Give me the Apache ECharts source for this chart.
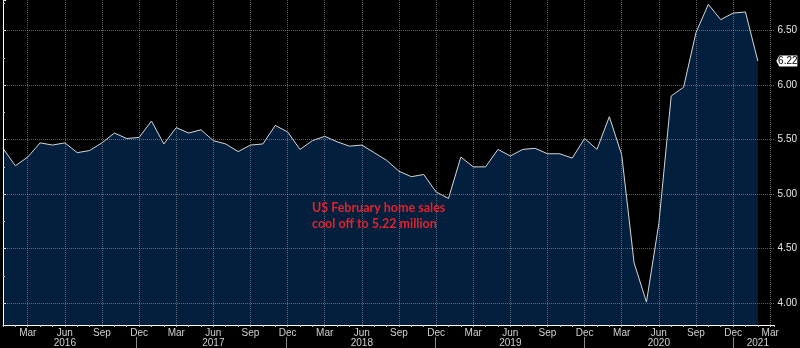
<!DOCTYPE html>
<html>
<head>
<meta charset="utf-8">
<script src="https://cdn.jsdelivr.net/npm/echarts@6/dist/echarts.min.js"></script>
<style>
  html, body { margin: 0; padding: 0; background: #000; }
  #chart { width: 800px; height: 348px; }
</style>
</head>
<body>
<div id="chart"></div>
<script>
// US existing home sales, seasonally adjusted annual rate (millions), monthly
const months = [
  '2016-01','2016-02','2016-03','2016-04','2016-05','2016-06','2016-07','2016-08','2016-09','2016-10','2016-11','2016-12',
  '2017-01','2017-02','2017-03','2017-04','2017-05','2017-06','2017-07','2017-08','2017-09','2017-10','2017-11','2017-12',
  '2018-01','2018-02','2018-03','2018-04','2018-05','2018-06','2018-07','2018-08','2018-09','2018-10','2018-11','2018-12',
  '2019-01','2019-02','2019-03','2019-04','2019-05','2019-06','2019-07','2019-08','2019-09','2019-10','2019-11','2019-12',
  '2020-01','2020-02','2020-03','2020-04','2020-05','2020-06','2020-07','2020-08','2020-09','2020-10','2020-11','2020-12',
  '2021-01','2021-02'
];
const sales = [
  5.42, 5.26, 5.34, 5.47, 5.45, 5.47, 5.38, 5.40, 5.47, 5.56, 5.51, 5.52,
  5.67, 5.46, 5.61, 5.56, 5.59, 5.49, 5.46, 5.39, 5.45, 5.46, 5.63, 5.57,
  5.41, 5.49, 5.53, 5.48, 5.44, 5.45, 5.38, 5.31, 5.21, 5.16, 5.18, 5.02,
  4.96, 5.34, 5.25, 5.25, 5.41, 5.35, 5.41, 5.42, 5.37, 5.37, 5.33, 5.51,
  5.41, 5.71, 5.36, 4.37, 4.01, 4.73, 5.90, 5.98, 6.48, 6.74, 6.60, 6.66,
  6.67, 6.22
];
const monthTickNames = ['', '', 'Mar', '', '', 'Jun', '', '', 'Sep', '', '', 'Dec'];
const yearLabels = [
  ['2016-06', '2016'], ['2017-06', '2017'], ['2018-06', '2018'],
  ['2019-06', '2019'], ['2020-06', '2020'], ['2021-02', '2021']
];
const yTickLabels = ['4.00', '4.50', '5.00', '5.50', '6.00', '6.50'];
const annotation = 'US February home sales\ncool off to 5.22 million';

// x runs on a month index so the axis can extend slightly past the last month
const X_MIN = 0, X_MAX = 62.35;
const Y_MIN = 3.8, Y_MAX = 6.78;

const yearAt = {};
yearLabels.forEach(([m, t]) => { yearAt[months.indexOf(m)] = t; });

const labelFont = "'Liberation Sans Narrow', 'Liberation Sans', sans-serif";
const gridDot = 'rgba(170,170,170,0.55)';
const clear = 'rgba(0,0,0,0)';

// dotted verticals every quarter (Mar/Jun/Sep/Dec), solid year separators at Dec
const quarterColors = [clear, clear, gridDot];
const yearSepColors = [];
for (let i = 0; i < 12; i++) yearSepColors.push(i === 11 ? '#8a8a8a' : clear);

const chart = echarts.init(document.getElementById('chart'));
chart.setOption({
  backgroundColor: '#000',
  animation: false,
  title: {
    text: annotation,
    left: 312, top: 200, padding: 0,
    textStyle: { color: '#e3222c', fontSize: 12.5, fontWeight: 700, fontFamily: 'Lato', lineHeight: 16 }
  },
  grid: [
    { left: 0, right: 25, top: 0, bottom: 23 },
    { left: 0, right: 25, top: 337, height: 11 }
  ],
  xAxis: [
    {
      type: 'value', gridIndex: 0, min: X_MIN, max: X_MAX, interval: 1, z: 3,
      axisLine: { show: true, lineStyle: { color: '#ffffff', width: 1 } },
      axisTick: { show: true, length: 2, lineStyle: { color: '#c8c8c8' } },
      axisLabel: {
        color: '#d0d0d0', fontSize: 10, fontFamily: labelFont, margin: 3,
        formatter: v => Number.isInteger(v) ? monthTickNames[v % 12] : ''
      },
      splitLine: { show: true, lineStyle: { type: 'dotted', width: 1, color: quarterColors } }
    },
    {
      type: 'value', gridIndex: 0, position: 'bottom', offset: 10,
      min: X_MIN, max: X_MAX, interval: 1,
      axisLine: { show: false }, axisTick: { show: false }, splitLine: { show: false },
      axisLabel: {
        color: '#d0d0d0', fontSize: 10, fontFamily: labelFont, margin: 3,
        formatter: v => yearAt[v] || ''
      }
    },
    {
      type: 'value', gridIndex: 1, min: X_MIN, max: X_MAX, interval: 1,
      axisLine: { show: false }, axisTick: { show: false }, axisLabel: { show: false },
      splitLine: { show: true, lineStyle: { type: 'solid', width: 1, color: yearSepColors } }
    }
  ],
  yAxis: [
    {
      type: 'value', gridIndex: 0, position: 'right', min: Y_MIN, max: Y_MAX,
      minInterval: 0.5, maxInterval: 0.5, splitNumber: 6, z: 3,
      axisLine: { show: true, lineStyle: { color: '#ffffff', width: 1 } },
      axisTick: { show: true, length: 3, lineStyle: { color: '#ffffff' } },
      axisLabel: {
        color: '#e6e6e6', fontSize: 10, fontFamily: labelFont, margin: 3,
        formatter: v => yTickLabels.includes(v.toFixed(2)) ? v.toFixed(2) : ''
      },
      splitLine: { show: true, showMinLine: false, showMaxLine: false,
        lineStyle: { type: 'dotted', width: 1, color: gridDot } }
    },
    {
      type: 'value', gridIndex: 0, position: 'right', min: Y_MIN, max: Y_MAX,
      minInterval: 0.25, maxInterval: 0.25, splitNumber: 12, z: 3,
      axisLine: { show: false }, axisLabel: { show: false }, splitLine: { show: false },
      axisTick: { show: true, length: 2, lineStyle: { color: '#cfcfcf' } }
    },
    { type: 'value', gridIndex: 1, show: false, min: 0, max: 1 }
  ],
  series: [
    {
      type: 'line', xAxisIndex: 0, yAxisIndex: 0, z: 2, clip: false,
      data: sales.map((v, i) => [i, v]),
      symbol: 'none', showSymbol: false,
      lineStyle: { color: '#d6d6d6', width: 1 },
      areaStyle: { color: '#021f3e', opacity: 1, origin: 'start' },
      markPoint: {
        symbol: 'path://M0,5L3,0L21,0L21,10L3,10Z',
        symbolSize: [21, 11],
        symbolOffset: [29, 0],
        itemStyle: { color: '#ffffff' },
        label: {
          show: true, position: 'inside', offset: [1, 0], color: '#000',
          fontSize: 10, fontFamily: labelFont,
          formatter: p => p.value.toFixed(2)
        },
        data: [{ coord: [sales.length - 1, sales[sales.length - 1]], value: sales[sales.length - 1] }]
      }
    }
  ]
});
</script>
</body>
</html>
